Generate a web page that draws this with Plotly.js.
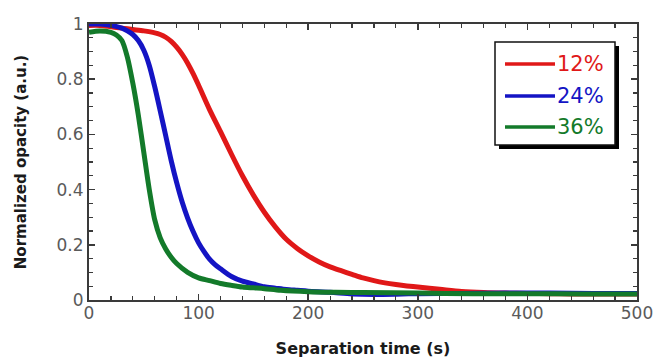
<!DOCTYPE html>
<html>
<head>
<meta charset="utf-8">
<script src="https://cdn.plot.ly/plotly-3.0.1.min.js"></script>
<style>html,body{margin:0;padding:0;background:#fff;}#chart{width:654px;height:358px;}</style>
</head>
<body>
<div id="chart"></div>
<script>
// Series names and colours
var seriesNames = ["12%", "24%", "36%"];
var seriesColors = ["#e01818", "#1414c4", "#137a2a"];

// 12% (red)
var tRed = [0,10,20,30,40,50,60,65,70,75,80,85,90,95,100,110,120,130,140,150,160,170,180,190,200,210,220,230,240,250,260,270,280,290,300,320,340,360,380,400,420,440,460,480,500];
var vRed = [0.995,0.995,0.99,0.985,0.98,0.975,0.968,0.962,0.952,0.937,0.916,0.89,0.858,0.82,0.778,0.69,0.61,0.528,0.45,0.38,0.318,0.265,0.22,0.187,0.16,0.138,0.12,0.106,0.093,0.08,0.07,0.062,0.056,0.051,0.047,0.039,0.031,0.027,0.025,0.024,0.023,0.022,0.022,0.022,0.022];

// 24% (blue)
var tBlue = [0,10,20,30,35,40,45,50,55,60,65,70,75,80,85,90,95,100,105,110,115,120,130,140,150,160,170,180,190,200,220,240,260,280,300,340,380,420,460,500];
var vBlue = [1.0,1.0,0.995,0.985,0.975,0.962,0.94,0.905,0.85,0.772,0.685,0.595,0.505,0.425,0.355,0.297,0.248,0.207,0.175,0.148,0.128,0.113,0.085,0.068,0.058,0.048,0.043,0.038,0.035,0.032,0.028,0.022,0.02,0.021,0.023,0.024,0.025,0.025,0.024,0.024];

// 36% (green)
var tGreen = [0,10,20,25,30,35,40,45,50,55,60,65,70,75,80,90,100,110,120,130,140,150,160,175,200,225,250,300,350,400,450,500];
var vGreen = [0.97,0.975,0.97,0.96,0.94,0.88,0.785,0.67,0.535,0.4,0.29,0.225,0.185,0.155,0.132,0.1,0.08,0.07,0.06,0.053,0.047,0.044,0.041,0.035,0.03,0.028,0.027,0.025,0.023,0.023,0.022,0.022];

// Tick labels
var xTickVals = [0,100,200,300,400,500];
var xTickText = ["0","100","200","300","400","500"];
var yTickVals = [0,0.2,0.4,0.6,0.8,1];
var yTickText = ["0","0.2","0.4","0.6","0.8","1"];

var xs = [tRed, tBlue, tGreen];
var ys = [vRed, vBlue, vGreen];

var traces = xs.map(function(x, i){
  return {
    x: x, y: ys[i], type: 'scatter', mode: 'lines',
    name: seriesNames[i], showlegend: false,
    line: {color: seriesColors[i], width: 5, shape: 'spline', smoothing: 0.8}
  };
});

// layout geometry (pixels)
var W = 654, H = 358, ML = 89, MR = 17, MT = 24, MB = 58;
var PW = W - ML - MR, PH = H - MT - MB;
function px2x(p){ return (p - ML) / PW; }
function px2y(p){ return (H - MB - p) / PH; }

var axisColor = '#3a3a3a';
var tickFont = {family: 'DejaVu Sans, sans-serif', size: 17, color: '#5a5a5a'};
var xTitleFont = {family: 'DejaVu Sans, sans-serif', size: 16, color: '#1a1a1a', weight: 'bold'};
var yTitleFont = {family: 'DejaVu Sans, sans-serif', size: 15, color: '#1a1a1a', weight: 'bold'};

// manual legend box with drop shadow
var shapes = [
  {type: 'rect', xref: 'paper', yref: 'paper', x0: px2x(499), x1: px2x(619), y0: px2y(149), y1: px2y(46),
   fillcolor: '#000000', line: {width: 0}, layer: 'above'},
  {type: 'rect', xref: 'paper', yref: 'paper', x0: px2x(495), x1: px2x(615), y0: px2y(145), y1: px2y(42),
   fillcolor: '#ffffff', line: {color: '#111111', width: 1.5}, layer: 'above'}
];
var annotations = [];
var rowY = [64, 96, 127];
seriesNames.forEach(function(nm, i){
  shapes.push({type: 'line', xref: 'paper', yref: 'paper', x0: px2x(505), x1: px2x(555), y0: px2y(rowY[i]), y1: px2y(rowY[i]),
    line: {color: seriesColors[i], width: 3.5}, layer: 'above'});
  annotations.push({xref: 'paper', yref: 'paper', x: px2x(555), y: px2y(rowY[i]), xanchor: 'left', yanchor: 'middle',
    text: nm, showarrow: false, font: {family: 'DejaVu Sans, sans-serif', size: 21, color: seriesColors[i]}});
});

var layout = {
  width: W, height: H,
  margin: {l: ML, r: MR, t: MT, b: MB},
  paper_bgcolor: '#ffffff', plot_bgcolor: '#ffffff',
  font: {family: 'DejaVu Sans, sans-serif'},
  showlegend: false,
  xaxis: {
    range: [0, 500], tickvals: xTickVals, ticktext: xTickText,
    ticks: 'inside', ticklen: 6, tickwidth: 1.5, tickcolor: axisColor,
    minor: {dtick: 20, ticks: 'inside', ticklen: 4, tickwidth: 1.2, tickcolor: axisColor, showgrid: false},
    showline: true, linecolor: axisColor, linewidth: 2, mirror: 'allticks',
    showgrid: false, zeroline: false,
    tickfont: tickFont, ticklabelstandoff: -3,
    title: {text: 'Separation time (s)', font: xTitleFont, standoff: 24}
  },
  yaxis: {
    range: [0, 1], tickvals: yTickVals, ticktext: yTickText,
    ticks: 'inside', ticklen: 6, tickwidth: 1.5, tickcolor: axisColor,
    minor: {dtick: 0.05, ticks: 'inside', ticklen: 4, tickwidth: 1.2, tickcolor: axisColor, showgrid: false},
    showline: true, linecolor: axisColor, linewidth: 2, mirror: 'allticks',
    showgrid: false, zeroline: false,
    tickfont: tickFont,
    title: {text: 'Normalized opacity (a.u.)', font: yTitleFont, standoff: 26}
  },
  shapes: shapes,
  annotations: annotations
};

Plotly.newPlot('chart', traces, layout, {staticPlot: true, displayModeBar: false});
</script>
</body>
</html>
